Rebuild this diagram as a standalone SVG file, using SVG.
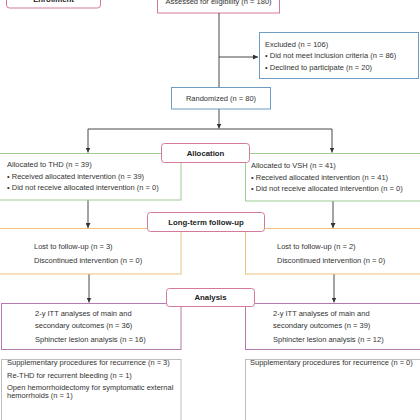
<svg xmlns="http://www.w3.org/2000/svg" width="420" height="420" viewBox="0 0 420 420">
<defs>
<marker id="arr" viewBox="0 0 6 6" refX="6" refY="3" markerWidth="5" markerHeight="5" orient="auto" markerUnits="userSpaceOnUse">
<path d="M0,0 L6,3 L0,6 z" fill="#333"/>
</marker>
<style>
text{font-family:"Liberation Sans","DejaVu Sans",sans-serif;font-size:7.5px;fill:#333}
.hd{font-weight:bold;font-size:7.8px;text-anchor:middle;fill:#222}
.c{text-anchor:middle}
.pink{fill:#fff;stroke:#d4799a;stroke-width:1}
.blue{fill:#fff;stroke:#6f9cc4;stroke-width:1}
.green{fill:#fff;stroke:#9ccb93;stroke-width:1}
.orange{fill:#fff;stroke:#ecc27d;stroke-width:1}
.purple{fill:#fff;stroke:#b57bb0;stroke-width:1}
.gray{fill:#fff;stroke:#bdbdbd;stroke-width:1}
.ln{fill:none;stroke:#333;stroke-width:0.9}
</style>
</defs>
<rect width="420" height="420" fill="#fff"/>

<g id="enrollment">
<rect class="pink" x="6.5" y="-12" width="94" height="20" rx="3"/>
<text class="hd" x="53.5" y="1.5">Enrollment</text>
</g>
<g id="assessed">
<rect class="pink" x="157.5" y="-8" width="122" height="21"/>
<text class="c" x="218.5" y="3.5">Assessed for eligibility (n = 180)</text>
</g>

<g id="connectors">
<path class="ln" d="M219,13 V87"/>
<path class="ln" d="M219,57 H258" marker-end="url(#arr)"/>
<path class="ln" d="M219,109 V128.5" marker-end="url(#arr)"/>
<path class="ln" d="M88,129 H332"/>
<path class="ln" d="M88,129 V152.5" marker-end="url(#arr)"/>
<path class="ln" d="M332,129 V152.5" marker-end="url(#arr)"/>
<path class="ln" d="M88,200 V228" marker-end="url(#arr)"/>
<path class="ln" d="M333,201 V228" marker-end="url(#arr)"/>
<path class="ln" d="M89,274 V302.5" marker-end="url(#arr)"/>
<path class="ln" d="M334,274 V302.5" marker-end="url(#arr)"/>
</g>

<g id="excluded">
<rect class="blue" x="259.5" y="32.5" width="159" height="46"/>
<text x="265" y="46.5">Excluded (n = 106)</text>
<text x="265" y="58">• Did not meet inclusion criteria (n = 86)</text>
<text x="265" y="69.5">• Declined to participate (n = 20)</text>
</g>

<g id="randomized">
<rect class="blue" x="171.5" y="87.5" width="99" height="21.5"/>
<text class="c" x="221" y="101">Randomized (n = 80)</text>
</g>

<g id="thd-alloc">
<rect class="green" x="-1" y="153.5" width="182" height="46.5"/>
<text x="7" y="167">Allocated to THD (n = 39)</text>
<text x="7" y="179">• Received allocated intervention (n = 39)</text>
<text x="7" y="190">• Did not receive allocated intervention (n = 0)</text>
</g>

<g id="vsh-alloc">
<rect class="green" x="245.5" y="153.5" width="180" height="47.5"/>
<text x="251" y="168">Allocated to VSH (n = 41)</text>
<text x="251" y="180">• Received allocated intervention (n = 41)</text>
<text x="251" y="191">• Did not receive allocated intervention (n = 0)</text>
</g>

<g id="allocation">
<rect class="pink" x="161.5" y="143.5" width="88" height="19" rx="3"/>
<text class="hd" x="205.5" y="155.8">Allocation</text>
</g>

<g id="thd-followup">
<rect class="orange" x="-1" y="228.5" width="182" height="45.5"/>
<text x="34" y="249">Lost to follow-up (n = 3)</text>
<text x="34" y="263">Discontinued intervention (n = 0)</text>
</g>

<g id="vsh-followup">
<rect class="orange" x="245.5" y="228.5" width="180" height="45.5"/>
<text x="277" y="249">Lost to follow-up (n = 2)</text>
<text x="277" y="263">Discontinued intervention (n = 0)</text>
</g>

<g id="followup">
<rect class="pink" x="147.5" y="212.5" width="117" height="19" rx="3"/>
<text class="hd" x="206" y="224.8">Long-term follow-up</text>
</g>

<g id="thd-analysis">
<rect class="purple" x="1.5" y="303.5" width="179.5" height="46"/>
<text x="35" y="316">2-y ITT analyses of main and</text>
<text x="35" y="327.5">secondary outcomes (n = 36)</text>
<text x="35" y="342">Sphincter lesion analysis (n = 16)</text>
</g>

<g id="vsh-analysis">
<rect class="purple" x="245.5" y="303.5" width="180" height="46"/>
<text x="273" y="316">2-y ITT analyses of main and</text>
<text x="273" y="327.5">secondary outcomes (n = 39)</text>
<text x="273" y="342">Sphincter lesion analysis (n = 12)</text>
</g>

<g id="analysis">
<rect class="pink" x="166.5" y="288.5" width="88" height="18" rx="3"/>
<text class="hd" x="210.5" y="300.3">Analysis</text>
</g>

<g id="thd-supp">
<rect class="gray" x="1.5" y="359.5" width="179.5" height="70"/>
<text x="7" y="365">Supplementary procedures for recurrence (n = 3)</text>
<text x="7" y="378">Re-THD for recurrent bleeding (n = 1)</text>
<text x="7" y="389.5">Open hemorrhoidectomy for symptomatic external</text>
<text x="7" y="397.5">hemorrhoids (n = 1)</text>
</g>

<g id="vsh-supp">
<rect class="gray" x="245.5" y="359.5" width="180" height="70"/>
<text x="250" y="365">Supplementary procedures for recurrence (n = 0)</text>
</g>
</svg>
